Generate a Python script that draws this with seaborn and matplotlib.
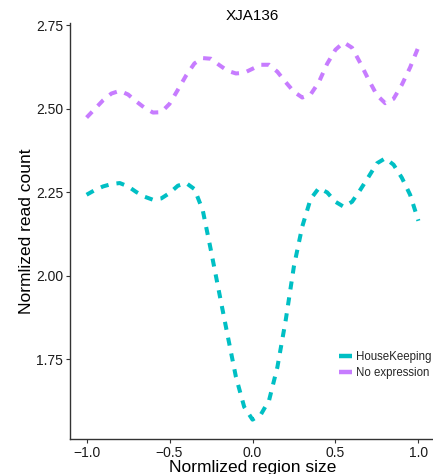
import numpy as np
import pandas as pd
import matplotlib
matplotlib.use("Agg")
import matplotlib.pyplot as plt
from matplotlib.lines import Line2D
import seaborn as sns

# Normalized position along the region
region_pos = [round(-1.0 + 0.05 * i, 2) for i in range(41)]

housekeeping = [
    2.243, 2.257, 2.268, 2.275, 2.278, 2.268, 2.251, 2.237, 2.228, 2.232,
    2.248, 2.270, 2.278, 2.260, 2.197, 2.075, 1.948, 1.822, 1.698, 1.608,
    1.570, 1.585, 1.628, 1.727, 1.867, 2.030, 2.148, 2.230, 2.263, 2.250,
    2.222, 2.207, 2.222, 2.258, 2.297, 2.337, 2.352, 2.333, 2.294, 2.243,
    2.165,
]

no_expression = [
    2.474, 2.500, 2.526, 2.546, 2.554, 2.543, 2.522, 2.503, 2.489, 2.490,
    2.515, 2.557, 2.600, 2.636, 2.652, 2.650, 2.631, 2.614, 2.606, 2.608,
    2.620, 2.632, 2.632, 2.611, 2.580, 2.551, 2.534, 2.543, 2.580, 2.635,
    2.677, 2.699, 2.683, 2.637, 2.587, 2.541, 2.517, 2.530, 2.572, 2.624,
    2.685,
]

groups = ["HouseKeeping", "No expression"]
colors = {"HouseKeeping": "#00BFC4", "No expression": "#C77CFF"}

x_ticks = [-1.0, -0.5, 0.0, 0.5, 1.0]
x_tick_labels = ["\u22121.0", "\u22120.5", "0.0", "0.5", "1.0"]
y_ticks = [1.75, 2.00, 2.25, 2.50, 2.75]
y_tick_labels = ["1.75", "2.00", "2.25", "2.50", "2.75"]

df = pd.concat([
    pd.DataFrame({"pos": region_pos, "count": housekeeping, "group": groups[0]}),
    pd.DataFrame({"pos": region_pos, "count": no_expression, "group": groups[1]}),
])

sns.set_style("ticks")
plt.rcParams["font.family"] = ["Liberation Sans", "DejaVu Sans"]

W, H = 433, 474
fig = plt.figure(figsize=(W / 100, H / 100), dpi=100)
ax = fig.add_axes([70 / W, 35 / H, 365 / W, 416 / H])

lw = 2.9
sns.lineplot(
    data=df, x="pos", y="count", hue="group", style="group",
    hue_order=groups, style_order=groups,
    palette=colors, dashes={g: (2, 2) for g in groups},
    linewidth=lw, legend=False, ax=ax, sort=True,
)
for ln in ax.get_lines():
    ln.set_dash_capstyle("butt")
    ln.set_solid_capstyle("butt")

ax.set_xlim(-1.1, 1.1)
ax.set_ylim(1.512, 2.757)
ax.set_xticks(x_ticks)
ax.set_xticklabels(x_tick_labels)
ax.set_yticks(y_ticks)
ax.set_yticklabels(y_tick_labels)

for side in ("top", "right"):
    ax.spines[side].set_visible(False)
for side in ("left", "bottom"):
    ax.spines[side].set_color("#333333")
    ax.spines[side].set_linewidth(1.0)

ax.tick_params(axis="both", direction="out", length=3, width=0.8,
               color="#333333", labelsize=10, labelcolor="#1a1a1a", pad=2)

ax.set_xlabel("Normlized region size", fontsize=12.5, color="black", labelpad=0)
ax.set_ylabel("Normlized read count", fontsize=12.5, color="black", labelpad=1)
ax.set_title("XJA136", fontsize=11, color="black", pad=2)

handles = [Line2D([0], [0], color=colors[g], lw=3.2, solid_capstyle="butt") for g in groups]
ax.legend(handles, groups, loc="center left", bbox_to_anchor=(0.737, 0.178),
          frameon=False, fontsize=8.3, handlelength=1.1, handletextpad=0.4,
          labelspacing=0.3, borderpad=0, borderaxespad=0)

fig.savefig("out.png", dpi=100)
